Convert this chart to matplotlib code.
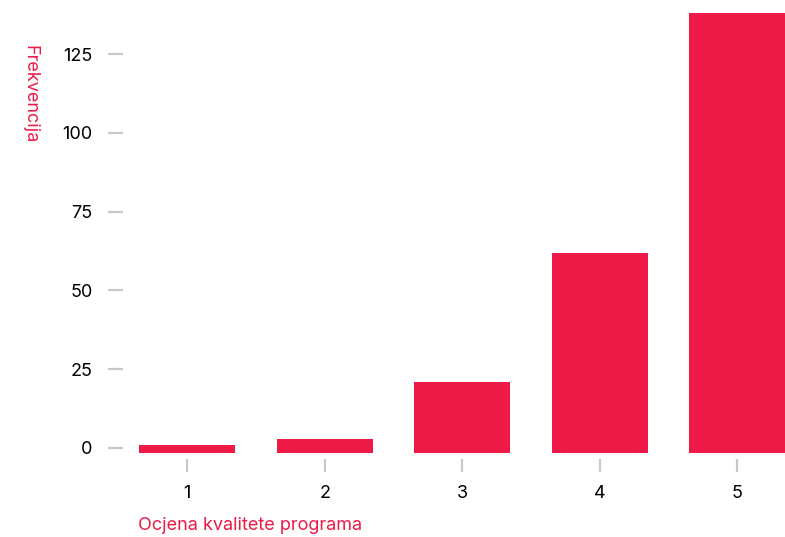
import matplotlib
matplotlib.use("Agg")
import matplotlib.pyplot as plt

# ocjene i frekvencije
ocjene = [1, 2, 3, 4, 5]
frekvencije = [1, 3, 21, 62, 138]
y_ticks = [0, 25, 50, 75, 100, 125]

crvena = "#EE1A47"
siva = "#C9C9C1"

plt.rcParams["font.family"] = ["Inter", "DejaVu Sans"]

fig = plt.figure(figsize=(7.85, 5.37), dpi=100)
ax = fig.add_axes([123 / 785, (537 - 459) / 537, (785 - 123) / 785, 459 / 537])

# stupci malo ispod nule, kao na originalu
ax.bar(ocjene, [f + 1.6 for f in frekvencije], bottom=-1.6, width=0.7, color=crvena)

ax.set_xlim(0.532, 5.347)
ax.set_ylim(-3.5, 142.2)
ax.set_xticks(ocjene)
ax.set_yticks(y_ticks)

for s in ax.spines.values():
    s.set_visible(False)

ax.tick_params(axis="y", length=10.8, width=1.6, color=siva, pad=11, labelsize=13)
ax.tick_params(axis="x", length=9.4, width=1.6, color=siva, pad=9, labelsize=13)

fig.text(30 / 785, 1 - 45 / 537, "Frekvencija", rotation=-90, ha="center", va="top",
         color=crvena, fontsize=13)
fig.text(138 / 785, 1 - 534 / 537, "Ocjena kvalitete programa", ha="left", va="bottom",
         color=crvena, fontsize=13)

fig.savefig("out.png", dpi=100)
